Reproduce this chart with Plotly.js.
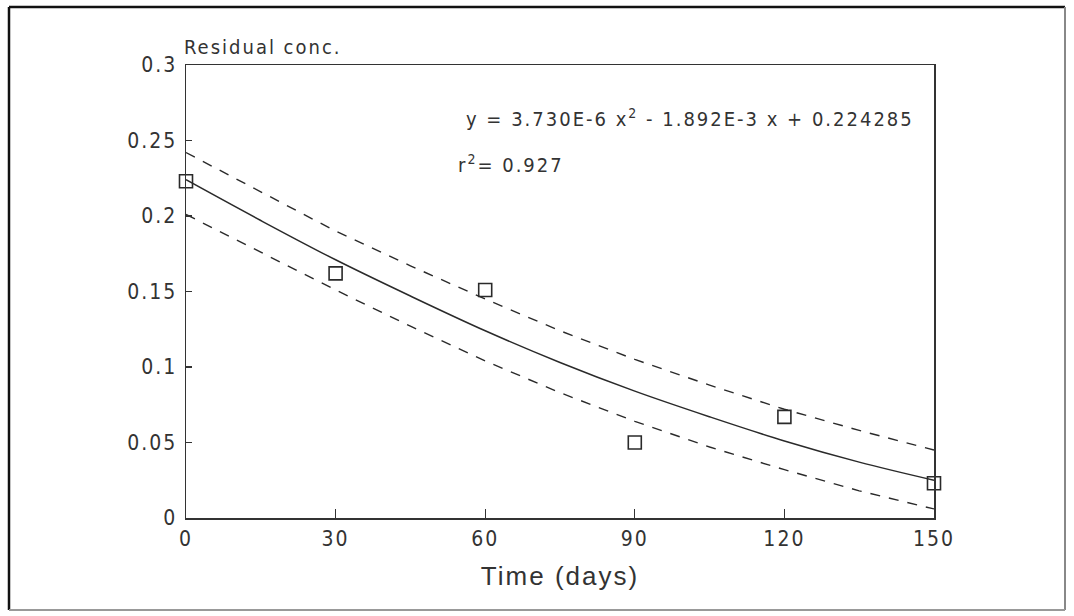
<!DOCTYPE html>
<html>
<head>
<meta charset="utf-8">
<script src="https://cdn.plot.ly/plotly-3.0.1.min.js"></script>
<style>
  html, body { margin: 0; padding: 0; background: #fff; }
  #chart { width: 1074px; height: 616px; }
  .xtick text, .ytick text { letter-spacing: 2px; }
  .annotation-text-g text { letter-spacing: 2px; }
  text.xtitle { letter-spacing: 2px; }
</style>
</head>
<body>
<div id="chart"></div>
<script>
// ---- data ----
const obsDays  = [0, 30, 60, 90, 120, 150];
const obsConc  = [0.223, 0.162, 0.151, 0.050, 0.067, 0.023];

const curveDays = [0, 15, 30, 45, 60, 75, 90, 105, 120, 135, 150];
const fitConc   = [0.224, 0.197, 0.171, 0.147, 0.124, 0.103, 0.084, 0.067, 0.051, 0.037, 0.025];
const upperConc = [0.242, 0.216, 0.190, 0.167, 0.145, 0.124, 0.105, 0.088, 0.072, 0.058, 0.045];
const lowerConc = [0.201, 0.176, 0.151, 0.127, 0.104, 0.083, 0.064, 0.047, 0.032, 0.018, 0.006];

const xTicks = [0, 30, 60, 90, 120, 150];
const yTicks = [0, 0.05, 0.1, 0.15, 0.2, 0.25, 0.3];
const yTickText = ["0", "0.05", "0.1", "0.15", "0.2", "0.25", "0.3"];

const equationText = "y = 3.730E-6 x<sup>2</sup> - 1.892E-3 x + 0.224285";
const r2Text = "r<sup>2</sup>= 0.927";
const yLabel = "Residual conc.";
const xLabel = "Time (days)";

// ---- layout helpers (pixel -> paper) ----
const W = 1074, H = 616;
const L = 186, R = 934, T = 65, B = 518;
const px = x => (x - L) / (R - L);
const py = y => (B - y) / (B - T);

const tickFont = { family: "Liberation Sans Narrow, DejaVu Sans Condensed, Liberation Sans, sans-serif", size: 21, color: "#333" };
const ink = "#2a2a2a";

const traces = [
  { x: curveDays, y: upperConc, mode: "lines", line: { color: ink, width: 1.4, dash: "10px,9px" }, hoverinfo: "skip", showlegend: false },
  { x: curveDays, y: lowerConc, mode: "lines", line: { color: ink, width: 1.4, dash: "10px,9px" }, hoverinfo: "skip", showlegend: false },
  { x: curveDays, y: fitConc, mode: "lines", line: { color: ink, width: 1.5, shape: "spline" }, showlegend: false },
  { x: obsDays, y: obsConc, mode: "markers", cliponaxis: false,
    marker: { symbol: "square-open", size: 13, color: ink, line: { width: 1.6, color: ink } }, showlegend: false }
];

const layout = {
  width: W, height: H,
  margin: { l: L, r: W - R, t: T, b: H - B, pad: 0 },
  paper_bgcolor: "#fff", plot_bgcolor: "#fff",
  showlegend: false,
  xaxis: {
    range: [0, 150], tickvals: xTicks, ticktext: xTicks.map(String),
    ticks: "inside", ticklen: 9, tickwidth: 1.3, tickcolor: "#333",
    showline: true, linecolor: "#333", linewidth: 1.5, mirror: true,
    showgrid: false, zeroline: false, tickfont: tickFont, ticklabelstandoff: 1,
    title: { text: xLabel, font: { family: "Liberation Sans, Arial, sans-serif", size: 26, color: "#333" }, standoff: 17 }
  },
  yaxis: {
    range: [0, 0.3], tickvals: yTicks, ticktext: yTickText,
    ticks: "inside", ticklen: 6, tickwidth: 1.3, tickcolor: "#333",
    showline: true, linecolor: "#333", linewidth: 1.5, mirror: true,
    showgrid: false, zeroline: false, tickfont: tickFont, ticklabelstandoff: 3
  },
  annotations: [
    { xref: "paper", yref: "paper", x: px(263), y: py(47), xanchor: "center", yanchor: "middle",
      text: yLabel, showarrow: false, font: { family: tickFont.family, size: 20, color: "#333" } },
    { xref: "paper", yref: "paper", x: px(690), y: py(118), xanchor: "center", yanchor: "middle",
      text: equationText, showarrow: false, font: { family: tickFont.family, size: 20, color: "#333" } },
    { xref: "paper", yref: "paper", x: px(511), y: py(164), xanchor: "center", yanchor: "middle",
      text: r2Text, showarrow: false, font: { family: tickFont.family, size: 20, color: "#333" } }
  ],
  shapes: [
    { type: "line", xref: "paper", yref: "paper", x0: px(9), x1: px(1065), y0: py(7), y1: py(7), line: { color: "#111", width: 2.5 } },
    { type: "line", xref: "paper", yref: "paper", x0: px(9), x1: px(9), y0: py(7), y1: py(610), line: { color: "#111", width: 2.5 } },
    { type: "line", xref: "paper", yref: "paper", x0: px(1065), x1: px(1065), y0: py(7), y1: py(610), line: { color: "#888", width: 2 } },
    { type: "line", xref: "paper", yref: "paper", x0: px(9), x1: px(1065), y0: py(610), y1: py(610), line: { color: "#999", width: 2 } }
  ]
};

Plotly.newPlot("chart", traces, layout, { staticPlot: true, displayModeBar: false });
</script>
</body>
</html>
